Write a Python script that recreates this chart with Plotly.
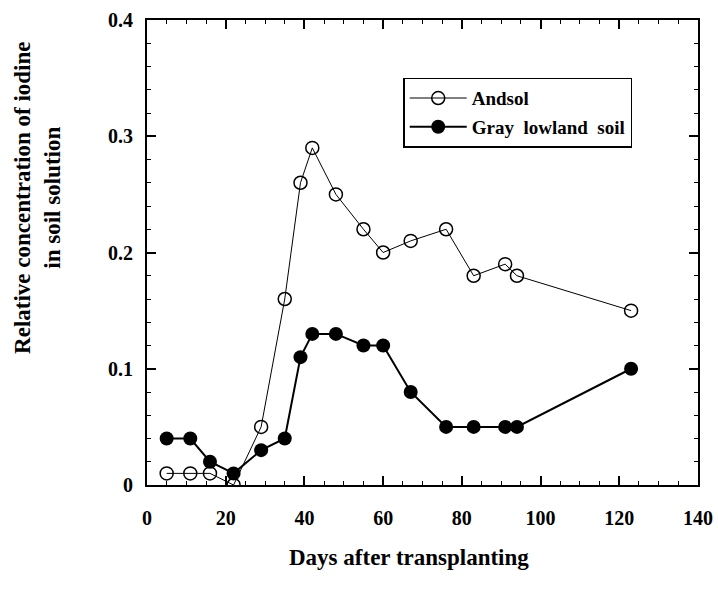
import plotly.graph_objects as go

days = [5, 11, 16, 22, 29, 35, 39, 42, 48, 55, 60, 67, 76, 83, 91, 94, 123]
andsol = [0.01, 0.01, 0.01, 0.0, 0.05, 0.16, 0.26, 0.29, 0.25, 0.22, 0.20, 0.21, 0.22, 0.18, 0.19, 0.18, 0.15]
gray_lowland = [0.04, 0.04, 0.02, 0.01, 0.03, 0.04, 0.11, 0.13, 0.13, 0.12, 0.12, 0.08, 0.05, 0.05, 0.05, 0.05, 0.10]

x_ticks = [0, 20, 40, 60, 80, 100, 120, 140]
y_ticks = [0, 0.1, 0.2, 0.3, 0.4]
y_labels = ["0", "0.1", "0.2", "0.3", "0.4"]

serif = "Liberation Serif, Times New Roman, serif"

fig = go.Figure()
fig.add_trace(go.Scatter(x=days, y=andsol, mode="lines+markers", name="<b>Andsol</b>",
                         legendgroup="a",
                         line=dict(color="black", width=1),
                         marker=dict(symbol="circle-open", size=13, color="black", line=dict(width=1.5))))
fig.add_trace(go.Scatter(x=days, y=gray_lowland, mode="lines+markers", name="<b>Gray  lowland  soil</b>",
                         legendgroup="b",
                         line=dict(color="black", width=2),
                         marker=dict(symbol="circle", size=14, color="black")))

axis_common = dict(showgrid=False, zeroline=False, showline=True, linecolor="black", linewidth=2,
                   mirror="ticks", ticks="inside", tickcolor="black", tickwidth=1.5, ticklen=9,
                   automargin=False,
                   tickfont=dict(family=serif, size=20, color="black"))

fig.update_xaxes(range=[0, 140], tickvals=x_ticks, ticktext=["<b>%d</b>" % v for v in x_ticks],
                 ticklabelstandoff=14, ticklabeloverflow="allow",
                 minor=dict(dtick=5, ticks="inside", ticklen=4, tickcolor="black", tickwidth=1),
                 **axis_common)
fig.update_yaxes(range=[0, 0.4], tickvals=y_ticks, ticktext=["<b>%s</b>" % t for t in y_labels],
                 ticklabelstandoff=8, ticklabeloverflow="allow",
                 minor=dict(dtick=0.02, ticks="inside", ticklen=4, tickcolor="black", tickwidth=1),
                 **axis_common)

fig.add_annotation(text="<b>Days after transplanting</b>", xref="paper", yref="paper",
                   x=0.475, y=-0.155, yanchor="middle", showarrow=False,
                   font=dict(family=serif, size=23, color="black"))
fig.add_annotation(text="<b>Relative concentration of iodine<br>in soil solution</b>", xref="paper", yref="paper",
                   x=-0.2, y=0.617, xanchor="center", yanchor="middle", textangle=-90, showarrow=False,
                   font=dict(family=serif, size=23, color="black"))

fig.update_layout(
    width=718, height=599,
    margin=dict(l=147, r=20, t=20, b=114),
    plot_bgcolor="white", paper_bgcolor="white",
    legend=dict(x=0.465, y=0.876, xanchor="left", yanchor="top", bgcolor="white",
                bordercolor="black", borderwidth=1.5, tracegroupgap=1,
                font=dict(family=serif, size=19, color="black"), itemwidth=57),
)

fig.write_html("out.html", config={"displayModeBar": False},
               post_script="document.body.style.margin='0';")
